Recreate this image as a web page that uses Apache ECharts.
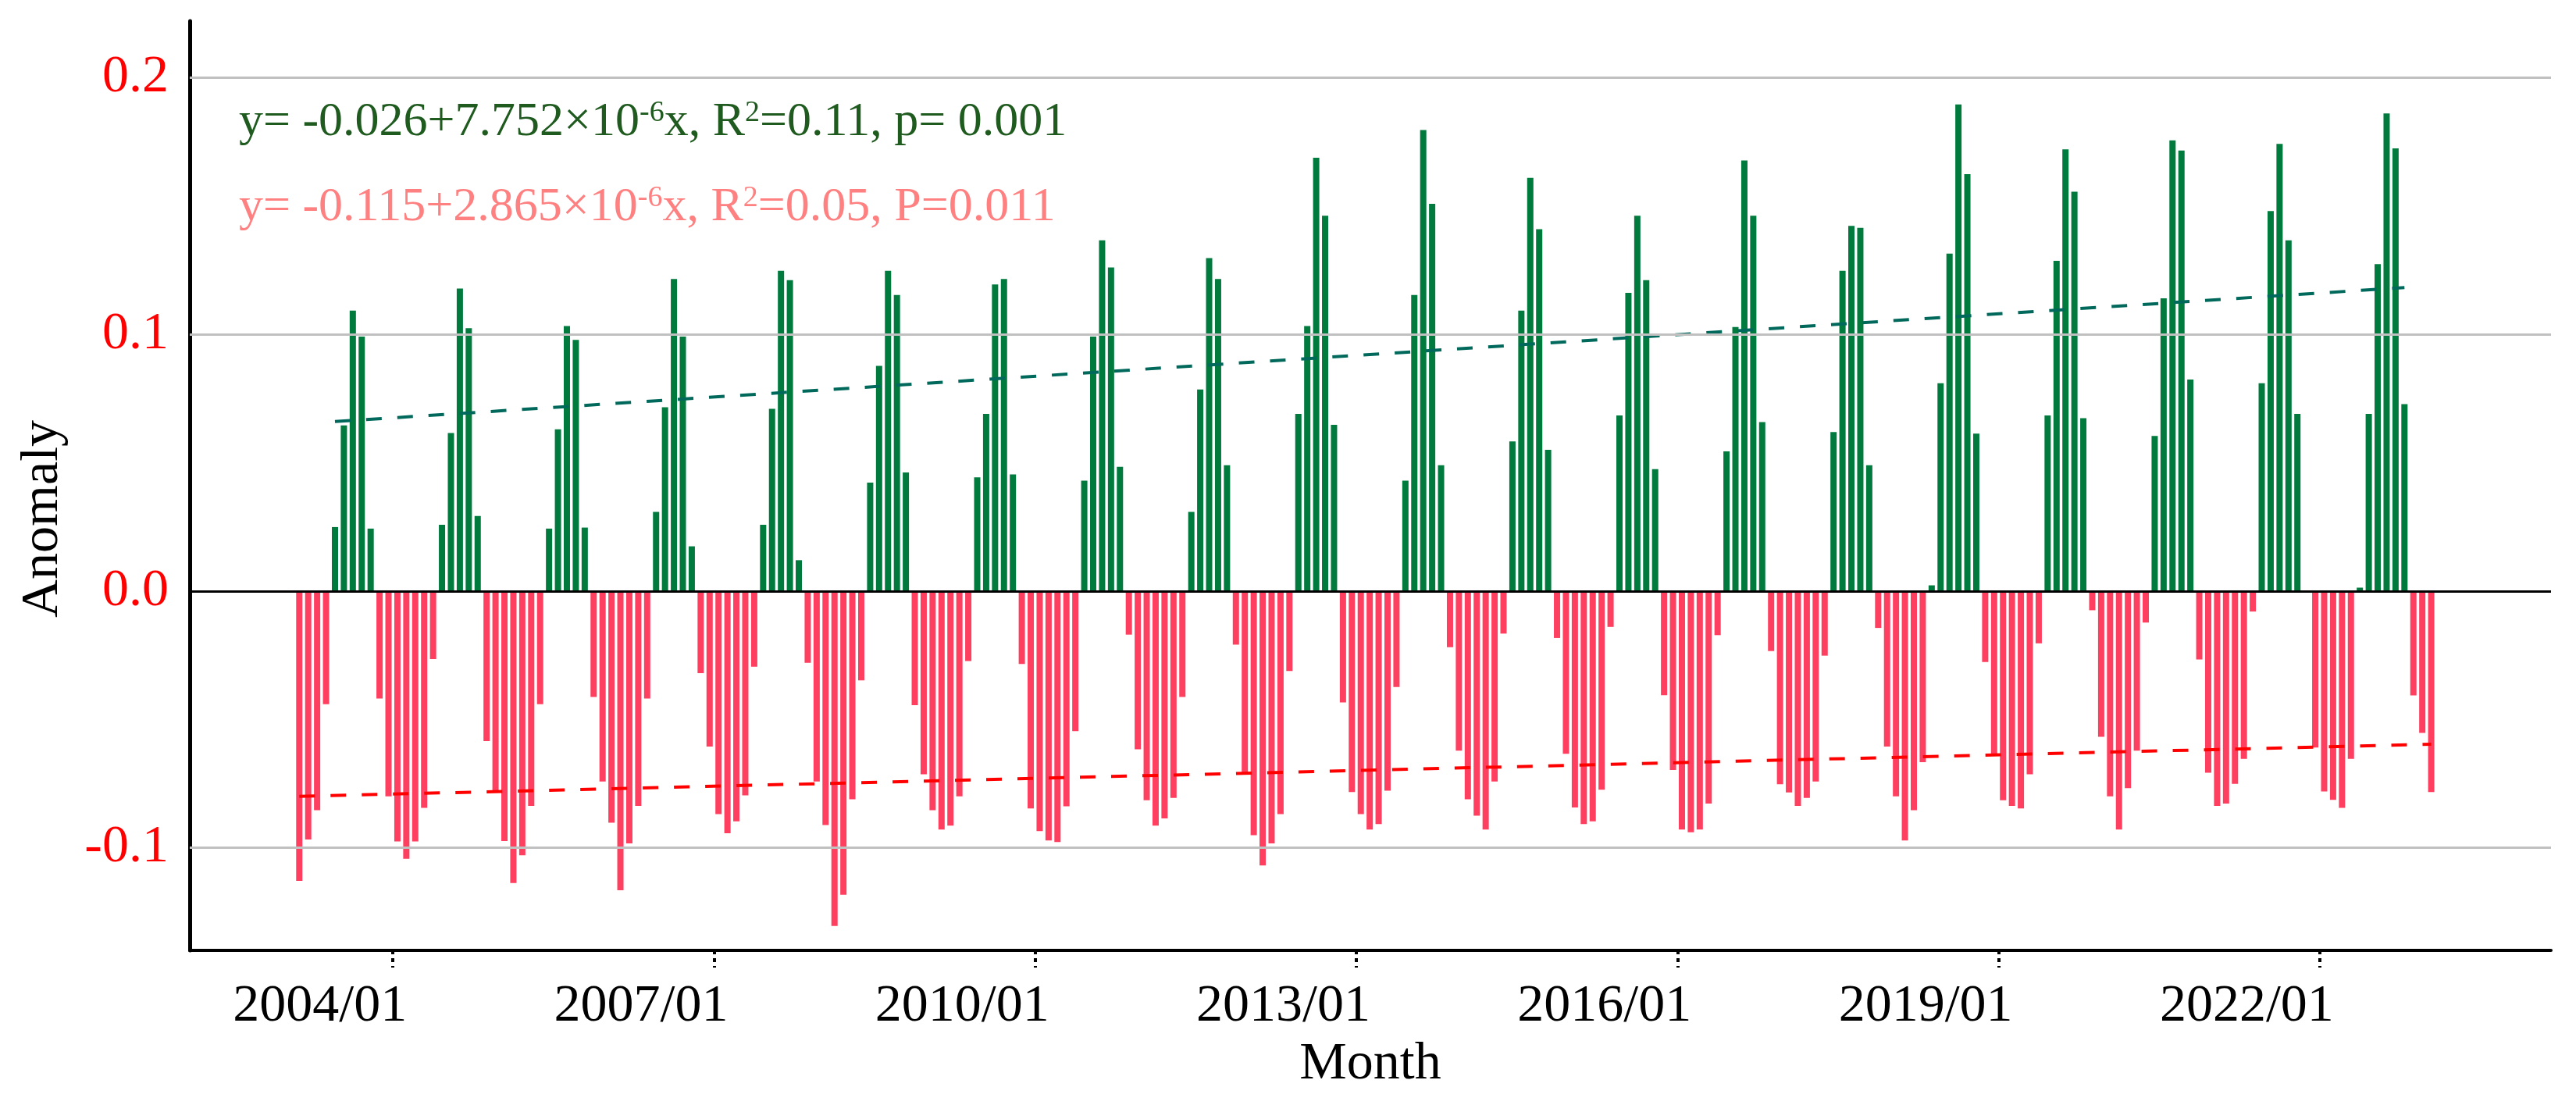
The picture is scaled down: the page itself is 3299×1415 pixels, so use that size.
<!DOCTYPE html>
<html>
<head>
<meta charset="utf-8">
<script src="https://cdn.jsdelivr.net/npm/echarts@6/dist/echarts.min.js"></script>
<style>html,body{margin:0;padding:0;background:#fff}#c{width:3299px;height:1415px}</style>
</head>
<body>
<div id="c"></div>
<script>
// ---- data (monthly anomaly, starting 2003/02) ----
const firstYear = 2003, firstMonthNum = 2;
const y2003 = [-0.1129, -0.0968, -0.0854, -0.0441, 0.0249, 0.0645, 0.1092, 0.0991, 0.0243, -0.0419, -0.0800];
const y2004 = [-0.0976, -0.1043, -0.0976, -0.0845, -0.0265, 0.0258, 0.0615, 0.1178, 0.1024, 0.0292, -0.0585, -0.0785];
const y2005 = [-0.0974, -0.1138, -0.1030, -0.0837, -0.0441, 0.0243, 0.0630, 0.1032, 0.0978, 0.0247, -0.0413, -0.0742];
const y2006 = [-0.0903, -0.1166, -0.0983, -0.0837, -0.0419, 0.0308, 0.0716, 0.1215, 0.0991, 0.0174, -0.0320, -0.0606];
const y2007 = [-0.0869, -0.0944, -0.0897, -0.0796, -0.0295, 0.0258, 0.0710, 0.1247, 0.1211, 0.0120, -0.0280, -0.0742];
const y2008 = [-0.0912, -0.1305, -0.1183, -0.0811, -0.0348, 0.0422, 0.0877, 0.1247, 0.1153, 0.0462, -0.0445, -0.0714];
const y2009 = [-0.0854, -0.0929, -0.0914, -0.0800, -0.0273, 0.0443, 0.0690, 0.1194, 0.1215, 0.0454, -0.0284, -0.0847];
const y2010 = [-0.0935, -0.0972, -0.0978, -0.0839, -0.0546, 0.0430, 0.0991, 0.1366, 0.1260, 0.0484, -0.0170, -0.0617];
const y2011 = [-0.0815, -0.0914, -0.0886, -0.0806, -0.0413, 0.0308, 0.0785, 0.1297, 0.1215, 0.0490, -0.0209, -0.0708];
const y2012 = [-0.0951, -0.1069, -0.0983, -0.0869, -0.0312, 0.0690, 0.1032, 0.1688, 0.1462, 0.0647, -0.0434, -0.0783];
const y2013 = [-0.0869, -0.0929, -0.0908, -0.0778, -0.0374, 0.0430, 0.1153, 0.1796, 0.1508, 0.0490, -0.0219, -0.0622];
const y2014 = [-0.0811, -0.0875, -0.0929, -0.0742, -0.0166, 0.0583, 0.1092, 0.1609, 0.1409, 0.0550, -0.0183, -0.0634];
const y2015 = [-0.0843, -0.0908, -0.0897, -0.0774, -0.0140, 0.0684, 0.1161, 0.1462, 0.1211, 0.0475, -0.0406, -0.0697];
const y2016 = [-0.0929, -0.0940, -0.0929, -0.0828, -0.0172, 0.0544, 0.1028, 0.1677, 0.1462, 0.0658, -0.0234, -0.0753];
const y2017 = [-0.0785, -0.0837, -0.0806, -0.0742, -0.0252, 0.0619, 0.1247, 0.1422, 0.1415, 0.0490, -0.0144, -0.0606];
const y2018 = [-0.0800, -0.0972, -0.0854, -0.0667, 0.0022, 0.0809, 0.1314, 0.1895, 0.1624, 0.0613, -0.0277, -0.0634];
const y2019 = [-0.0815, -0.0837, -0.0847, -0.0714, -0.0204, 0.0684, 0.1286, 0.1720, 0.1555, 0.0673, -0.0075, -0.0568];
const y2020 = [-0.0800, -0.0929, -0.0768, -0.0622, -0.0123, 0.0604, 0.1140, 0.1755, 0.1716, 0.0824, -0.0267, -0.0708];
const y2021 = [-0.0837, -0.0828, -0.0751, -0.0654, -0.0080, 0.0809, 0.1480, 0.1742, 0.1366, 0.0690, null, -0.0610];
const y2022 = [-0.0781, -0.0814, -0.0845, -0.0654, 0.0013, 0.0690, 0.1273, 0.1860, 0.1724, 0.0728, -0.0407, -0.0553];
const y2023 = [-0.0783];

const tickLabels = ['2004/01', '2007/01', '2010/01', '2013/01', '2016/01', '2019/01', '2022/01'];
const yTickValues = [-0.1, 0.0, 0.1, 0.2];
const greenTrend = [0.0660, 0.1182];   // regression line, start / end
const redTrend = [-0.0800, -0.0597];
const eqGreen = '{n|y= -0.026+7.752×10}{s|-6}{n|x, R}{s|2}{n|=0.11, p= 0.001}';
const eqRed = '{n|y= -0.115+2.865×10}{s|-6}{n|x, R}{s|2}{n|=0.05, P=0.011}';

// ---- build ----
const values = [].concat(y2003, y2004, y2005, y2006, y2007, y2008, y2009, y2010, y2011,
  y2012, y2013, y2014, y2015, y2016, y2017, y2018, y2019, y2020, y2021, y2022, y2023);
function monthIndex(label) {
  const p = label.split('/');
  return (+p[0] - firstYear) * 12 + (+p[1] - firstMonthNum);
}
const tickPos = tickLabels.map(l => monthIndex(l) - 0.5);
const barData = values.map((v, i) => [i, v]);
let firstPos = -1, lastPos = -1, firstNeg = -1, lastNeg = -1;
values.forEach((v, i) => {
  if (v == null) return;
  if (v > 0) { if (firstPos < 0) firstPos = i; lastPos = i; }
  if (v < 0) { if (firstNeg < 0) firstNeg = i; lastNeg = i; }
});

const GREEN = '#007a3d', RED = '#ff3f5f';
const FONT = 'Liberation Serif, Times New Roman, serif';

const chart = echarts.init(document.getElementById('c'), null, {renderer: 'canvas', width: 3299, height: 1415});
chart.setOption({
  animation: false,
  backgroundColor: '#ffffff',
  grid: {left: 243, right: 32, top: 27, bottom: 198, containLabel: false},
  xAxis: {
    type: 'value', min: -12.28, max: 252.43,
    axisLine: {show: true, onZero: false, lineStyle: {color: '#000', width: 4}},
    axisTick: {show: true, customValues: tickPos, length: 22, lineStyle: {color: '#000', width: 4, type: [5, 5]}},
    axisLabel: {
      customValues: tickPos,
      formatter: function (v) {
        let best = 0;
        tickPos.forEach((t, k) => { if (Math.abs(t - v) < Math.abs(tickPos[best] - v)) best = k; });
        return tickLabels[best];
      },
      align: 'right', padding: [0, -18, 0, 0], margin: 38,
      fontSize: 68, fontFamily: FONT, color: '#000'
    },
    splitLine: {show: false},
    name: 'Month', nameLocation: 'middle', nameGap: 112,
    nameTextStyle: {fontSize: 68, fontFamily: FONT, color: '#000'}
  },
  yAxis: {
    type: 'value', min: -0.14, max: 0.222,
    axisLine: {show: true, onZero: false, lineStyle: {color: '#000', width: 5}},
    axisTick: {show: false},
    splitLine: {show: false},
    axisLabel: {
      customValues: yTickValues,
      formatter: v => v.toFixed(1),
      margin: 27, fontSize: 68, fontFamily: FONT, color: '#ff0000'
    },
    name: 'Anomaly', nameLocation: 'middle', nameGap: 154,
    nameTextStyle: {fontSize: 68, fontFamily: FONT, color: '#000', padding: [0, 85, 0, 0]}
  },
  graphic: [
    {type: 'text', x: 306, y: 157, z: 10, style: {
      text: eqGreen, fill: '#1f5a1f', align: 'left', verticalAlign: 'middle',
      rich: {n: {fontSize: 62, fontFamily: FONT, fill: '#1f5a1f', lineHeight: 62},
             s: {fontSize: 38, fontFamily: FONT, fill: '#1f5a1f', lineHeight: 30, verticalAlign: 'top'}}
    }},
    {type: 'text', x: 306, y: 266, z: 10, style: {
      text: eqRed, fill: '#ff8080', align: 'left', verticalAlign: 'middle',
      rich: {n: {fontSize: 62, fontFamily: FONT, fill: '#ff8080', lineHeight: 62},
             s: {fontSize: 38, fontFamily: FONT, fill: '#ff8080', lineHeight: 30, verticalAlign: 'top'}}
    }}
  ],
  series: [
    {
      type: 'line', data: [], z: 1, silent: true,
      markLine: {
        silent: true, symbol: ['none', 'none'], label: {show: false}, animation: false,
        lineStyle: {color: '#c0c0c0', width: 3, type: 'solid'},
        data: yTickValues.filter(v => v !== 0).map(v => ({yAxis: v}))
      }
    },
    {
      type: 'bar', data: barData, barWidth: 8, z: 2, silent: true,
      itemStyle: {color: p => (p.value[1] >= 0 ? GREEN : RED)}
    },
    {
      type: 'line', data: [], z: 3, silent: true,
      markLine: {
        silent: true, symbol: ['none', 'none'], label: {show: false}, animation: false,
        lineStyle: {color: '#000', width: 3, type: 'solid'},
        data: [{yAxis: 0}]
      }
    },
    {
      type: 'line', z: 4, showSymbol: false, silent: true,
      data: [[firstPos, greenTrend[0]], [lastPos, greenTrend[1]]],
      lineStyle: {color: '#00695c', width: 4, type: [20, 20]}
    },
    {
      type: 'line', z: 4, showSymbol: false, silent: true,
      data: [[firstNeg, redTrend[0]], [lastNeg, redTrend[1]]],
      lineStyle: {color: '#ff0000', width: 4, type: [20, 20]}
    }
  ]
});
</script>
</body>
</html>
